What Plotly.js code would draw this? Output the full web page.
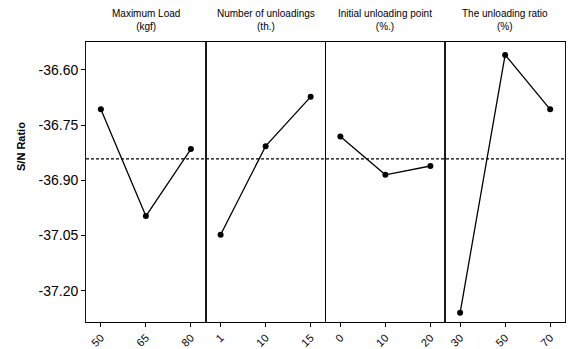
<!DOCTYPE html>
<html>
<head>
<meta charset="utf-8">
<script src="https://cdn.plot.ly/plotly-3.0.1.min.js"></script>
<style>html,body{margin:0;padding:0;background:#fff;}#chart{width:570px;height:349px;}</style>
</head>
<body>
<div id="chart"></div>
<script>
// Factor titles
var factorTitles = ["Maximum Load<br>(kgf)", "Number of unloadings<br>(th.)", "Initial unloading point<br>(%.)", "The unloading ratio<br>(%)"];
// Level tick labels per factor
var levelsLoad = ["50", "65", "80"];
var levelsUnloadings = ["1", "10", "15"];
var levelsInitial = ["0", "10", "20"];
var levelsRatio = ["30", "50", "70"];
// S/N ratio values per factor
var snLoad = [-36.707, -36.997, -36.815];
var snUnloadings = [-37.048, -36.807, -36.673];
var snInitial = [-36.781, -36.885, -36.861];
var snRatio = [-37.260, -36.559, -36.707];
// Y ticks
var yTickVals = [-36.60, -36.75, -36.90, -37.05, -37.20];
var yTickText = ["-36.60", "-36.75", "-36.90", "-37.05", "-37.20"];

var levels = [levelsLoad, levelsUnloadings, levelsInitial, levelsRatio];
var values = [snLoad, snUnloadings, snInitial, snRatio];

var all = [].concat(snLoad, snUnloadings, snInitial, snRatio);
var grand = all.reduce(function(a,b){return a+b;},0) / all.length;

var font = "Liberation Sans, Arial, sans-serif";
var traces = [];
var layout = {
  width: 570, height: 349,
  margin: {l: 86, r: 5, t: 42, b: 27},
  paper_bgcolor: "#fff", plot_bgcolor: "#fff",
  showlegend: false,
  font: {family: font, color: "#000"},
  annotations: [],
  shapes: []
};

for (var i = 0; i < 4; i++) {
  var sfx = i === 0 ? "" : String(i + 1);
  var idx = [0, 1, 2];
  traces.push({
    type: "scatter", mode: "lines+markers",
    x: idx, y: values[i],
    xaxis: "x" + sfx, yaxis: "y" + sfx,
    line: {color: "#000", width: 1.3},
    marker: {color: "#000", size: 6},
    hoverinfo: "skip"
  });
  var d0 = i * 0.25, d1 = (i + 1) * 0.25;
  layout["xaxis" + sfx] = {
    domain: [d0, d1], anchor: "y" + sfx,
    range: [-0.33, 2.33],
    tickvals: idx, ticktext: levels[i],
    tickangle: -45,
    ticks: "outside", ticklen: 4, tickwidth: 1, tickcolor: "#000",
    tickfont: {family: font, size: 11, color: "#000"},
    showline: true, linecolor: "#000", linewidth: 1.2, mirror: true,
    showgrid: false, zeroline: false, fixedrange: true
  };
  var ya = {
    anchor: "x" + sfx,
    range: [-37.285, -36.524],
    showline: true, linecolor: "#000", linewidth: 0.9, mirror: true,
    showgrid: false, zeroline: false, fixedrange: true
  };
  if (i === 0) {
    ya.tickvals = yTickVals; ya.ticktext = yTickText;
    ya.ticks = "outside"; ya.ticklen = 4; ya.tickcolor = "#000";
    ya.tickfont = {family: font, size: 14, color: "#000"};
  } else {
    ya.matches = "y"; ya.showticklabels = false; ya.ticks = "";
  }
  layout["yaxis" + sfx] = ya;
  layout.annotations.push({
    text: factorTitles[i], xref: "paper", yref: "paper",
    x: (d0 + d1) / 2, y: 1, yshift: 8, yanchor: "bottom", xanchor: "center",
    showarrow: false, align: "center",
    font: {family: font, size: 10, color: "#000"}
  });
}

layout.shapes.push({
  type: "line", xref: "paper", yref: "y",
  x0: 0, x1: 1, y0: grand, y1: grand,
  line: {color: "#000", width: 1.2, dash: "3px,2px"}
});

layout.annotations.push({
  text: "<b>S/N Ratio</b>", xref: "paper", yref: "paper",
  x: 0, xshift: -65, y: 0.50, yshift: 35, textangle: -90,
  xanchor: "center", yanchor: "middle", showarrow: false,
  font: {family: font, size: 11, color: "#000"}
});

Plotly.newPlot("chart", traces, layout, {displayModeBar: false, staticPlot: true});
</script>
</body>
</html>
